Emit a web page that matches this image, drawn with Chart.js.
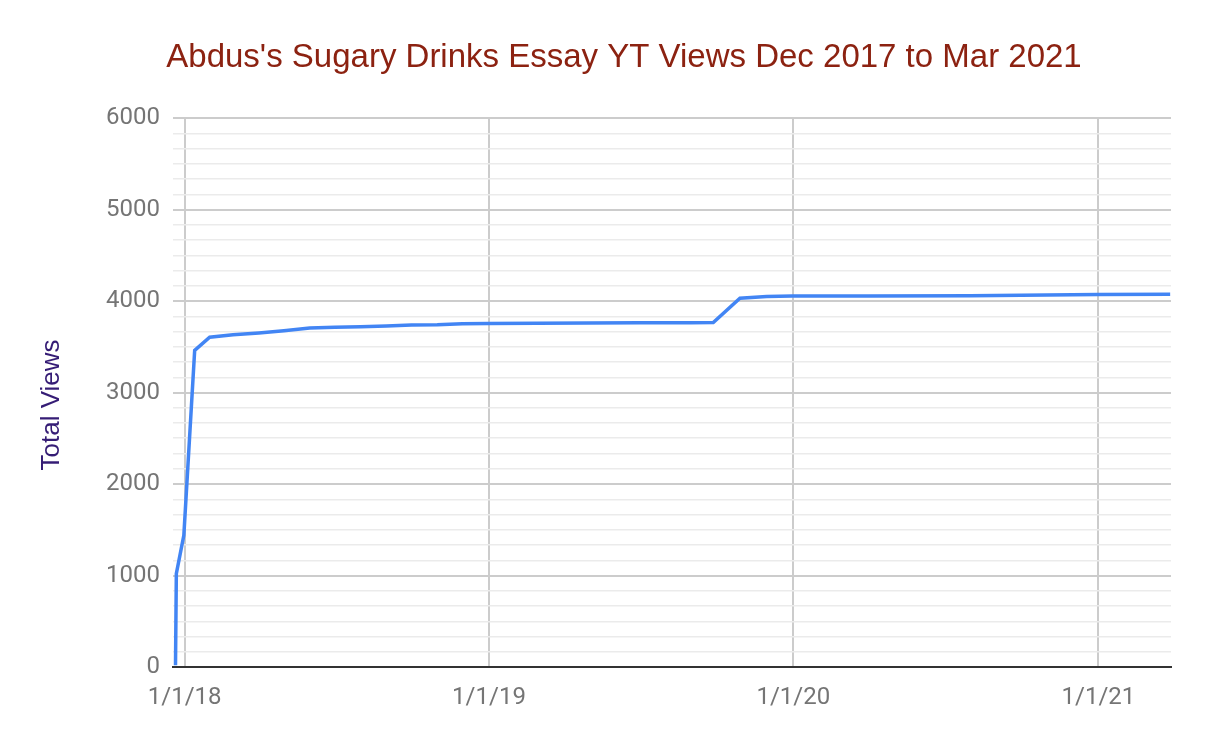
<!DOCTYPE html>
<html lang="en">
<head>
  <meta charset="UTF-8">
  <title>Sugary Drinks Essay YT Views</title>
  <script src="https://cdn.jsdelivr.net/npm/chart.js"></script>
  <style>
    html, body { margin: 0; padding: 0; background: #fff; }
    #wrap { width: 1209px; height: 748px; }
  </style>
</head>
<body>
  <div id="wrap"><canvas id="viewsChart"></canvas></div>

  <script>
    // dates of each reading and total views at that date
    const dates = [
      '2017-12-21', '2017-12-22', '2017-12-31', '2018-01-13', '2018-01-31',
      '2018-02-28', '2018-03-31', '2018-04-30', '2018-05-31', '2018-06-30',
      '2018-07-31', '2018-08-31', '2018-09-30', '2018-10-31', '2018-11-30',
      '2018-12-31', '2019-02-28', '2019-04-30', '2019-06-30', '2019-08-31',
      '2019-09-27', '2019-10-29', '2019-11-30', '2019-12-31', '2020-03-31',
      '2020-07-31', '2020-10-31', '2021-01-01', '2021-03-28'
    ];
    const totalViews = [
      20, 1020, 1440, 3460, 3605,
      3630, 3650, 3675, 3705, 3712,
      3718, 3728, 3738, 3740, 3752,
      3755, 3758, 3760, 3762, 3763,
      3765, 4030, 4050, 4055, 4056,
      4058, 4065, 4072, 4075
    ];
    const xRange = ['2017-12-18', '2021-03-29'];
    const xTickDates = ['2018-01-01', '2019-01-01', '2020-01-01', '2021-01-01'];
    const xTickLabels = ['1/1/18', '1/1/19', '1/1/20', '1/1/21'];
    const yMajorTicks = [0, 1000, 2000, 3000, 4000, 5000, 6000];
    const yMinorPerMajor = 6;

    const chartTitle = "Abdus's Sugary Drinks Essay YT Views Dec 2017 to Mar 2021";
    const yTitle = 'Total Views';

    // date string -> day number (so a linear scale can place it)
    function dayNum(s) {
      return Date.parse(s + 'T00:00:00Z') / 86400000;
    }

    function isMajor(v) {
      return yMajorTicks.some(m => Math.abs(m - v) < 0.01);
    }

    const points = dates.map((d, i) => ({ x: dayNum(d), y: totalViews[i] }));
    const xTicks = xTickDates.map(dayNum);

    const yStep = (yMajorTicks[1] - yMajorTicks[0]) / yMinorPerMajor;
    const yMax = yMajorTicks[yMajorTicks.length - 1];

    // titles drawn by hand so they sit where the original has them
    const titlesPlugin = {
      id: 'titles',
      afterDraw: function(chart) {
        const ctx = chart.ctx;
        ctx.save();
        ctx.fillStyle = '#8c2211';
        ctx.font = '33px "Liberation Sans", Arial, sans-serif';
        ctx.textAlign = 'center';
        ctx.textBaseline = 'middle';
        ctx.fillText(chartTitle, 624, 58);

        ctx.translate(52, 405);
        ctx.rotate(-Math.PI / 2);
        ctx.fillStyle = '#351c75';
        ctx.font = '26px "Liberation Sans", Arial, sans-serif';
        ctx.fillText(yTitle, 0, 0);
        ctx.restore();
      }
    };

    new Chart(document.getElementById('viewsChart').getContext('2d'), {
      type: 'line',
      data: {
        datasets: [{
          label: 'Total Views',
          data: points,
          borderColor: '#4285f4',
          borderWidth: 3.5,
          pointRadius: 0,
          tension: 0,
          fill: false
        }]
      },
      options: {
        responsive: true,
        maintainAspectRatio: false,
        animation: false,
        layout: { padding: { left: 0, right: 38, top: 118, bottom: 0 } },
        plugins: {
          legend: { display: false },
          tooltip: { enabled: false },
          title: { display: false }
        },
        scales: {
          x: {
            type: 'linear',
            min: dayNum(xRange[0]),
            max: dayNum(xRange[1]),
            afterBuildTicks: function(scale) {
              scale.ticks = xTicks.map(v => ({ value: v }));
            },
            afterFit: function(scale) { scale.height = 81; },
            ticks: {
              autoSkip: false,
              maxRotation: 0,
              padding: 17,
              color: '#757575',
              font: { family: 'Roboto, sans-serif', size: 24 },
              callback: function(value) {
                const idx = xTicks.indexOf(value);
                return idx >= 0 ? xTickLabels[idx] : '';
              }
            },
            grid: { color: '#cccccc', lineWidth: 2, drawTicks: false },
            border: { display: true, color: '#333333', width: 2 }
          },
          y: {
            min: 0,
            max: yMax,
            afterBuildTicks: function(scale) {
              const t = [];
              for (let i = 0; i * yStep <= yMax + 0.1; i++) t.push({ value: i * yStep });
              scale.ticks = t;
            },
            afterFit: function(scale) { scale.width = 173; },
            ticks: {
              autoSkip: false,
              padding: 13,
              color: '#757575',
              font: { family: 'Roboto, sans-serif', size: 24 },
              callback: function(value) {
                return isMajor(value) ? String(Math.round(value)) : '';
              }
            },
            grid: {
              drawTicks: false,
              lineWidth: function(ctx) {
                return ctx.tick && isMajor(ctx.tick.value) ? 2 : 1.5;
              },
              color: function(ctx) {
                return ctx.tick && isMajor(ctx.tick.value) ? '#cccccc' : '#ebebeb';
              }
            },
            border: { display: false }
          }
        }
      },
      plugins: [titlesPlugin]
    });
  </script>
</body>
</html>
